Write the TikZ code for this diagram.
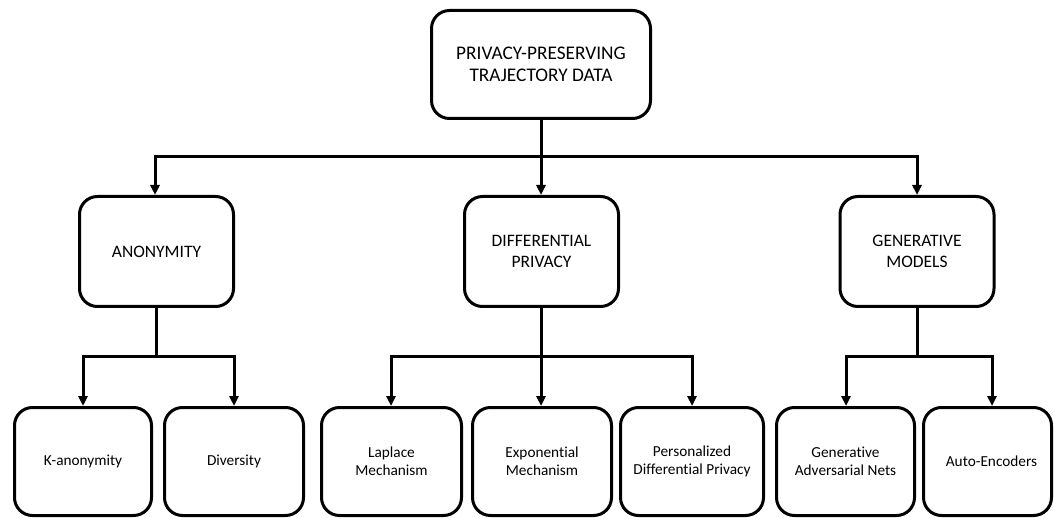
\documentclass[tikz,border=0pt]{standalone}
\usepackage{fontspec}
\setmainfont{Carlito}[Ligatures=NoCommon]
\usetikzlibrary{arrows.meta}

\tikzset{
  box/.style={draw=black, line width=3pt, rounded corners=18pt, fill=white,
    align=center, inner sep=0pt},
  rootbox/.style={box, minimum width=219pt, minimum height=108pt,
    font=\fontsize{19.3}{22.3}\selectfont},
  catbox/.style={box, minimum width=154pt, minimum height=110pt,
    font=\fontsize{17.5}{21.7}\selectfont},
  leafbox/.style={box, minimum height=108pt,
    font=\fontsize{15.3}{18.3}\selectfont},
  conn/.style={draw=black, line width=3pt},
  arr/.style={conn, -{Triangle[length=10pt,width=9pt]}}
}

\begin{document}
\begin{tikzpicture}[x=1pt, y=-1pt]
  \useasboundingbox (0,0) rectangle (1054,518);

  % root
  \node[rootbox] (root) at (541,64.5) {PRIVACY-PRESERVING\\TRAJECTORY DATA};

  % categories
  \node[catbox] (anon) at (156.5,251.5) {ANONYMITY};
  \node[catbox] (dp)   at (541.5,251.5) {DIFFERENTIAL\\PRIVACY};
  \node[catbox] (gen)  at (917,251.5)   {GENERATIVE\\MODELS};

  % techniques
  \node[leafbox, minimum width=137pt] (kanon) at (83,461.5)    {K-anonymity};
  \node[leafbox, minimum width=139pt] (div)   at (234,461.5)   {Diversity};
  \node[leafbox, minimum width=140pt] (lap)   at (391.5,461.5) {Laplace\\Mechanism};
  \node[leafbox, minimum width=139pt] (expm)  at (542,461.5)   {Exponential\\Mechanism};
  \node[leafbox, minimum width=143pt] (pers)  at (692,461.5)   {Personalized\\Differential Privacy};
  \node[leafbox, minimum width=138pt] (gan)   at (845.5,461.5) {Generative\\Adversarial Nets};
  \node[leafbox, minimum width=128pt] (ae)    at (987.5,461.5) {\hspace*{8pt}Auto-Encoders};

  % branch points
  \coordinate (j0) at (541,157);
  \coordinate (j1) at (156,356);
  \coordinate (j2) at (541,356);
  \coordinate (j3) at (917,356);

  % root -> categories
  \draw[conn] (root.south) -- (j0);
  \draw[arr] (j0) -| (anon.north -| 155,0);
  \draw[arr] (j0) -- (dp.north -| j0);
  \draw[arr] (j0) -| (gen.north);

  % anonymity -> techniques
  \draw[conn] (anon.south -| j1) -- (j1);
  \draw[arr] (j1) -| (kanon.north);
  \draw[arr] (j1) -| (div.north);

  % differential privacy -> techniques
  \draw[conn] (dp.south -| j2) -- (j2);
  \draw[arr] (j2) -| (lap.north -| 391,0);
  \draw[arr] (j2) -- (expm.north -| j2);
  \draw[arr] (j2) -| (pers.north);

  % generative models -> techniques
  \draw[conn] (gen.south) -- (j3);
  \draw[arr] (j3) -| (gan.north -| 846,0);
  \draw[arr] (j3) -| ([xshift=4.5pt]ae.north);
\end{tikzpicture}
\end{document}
